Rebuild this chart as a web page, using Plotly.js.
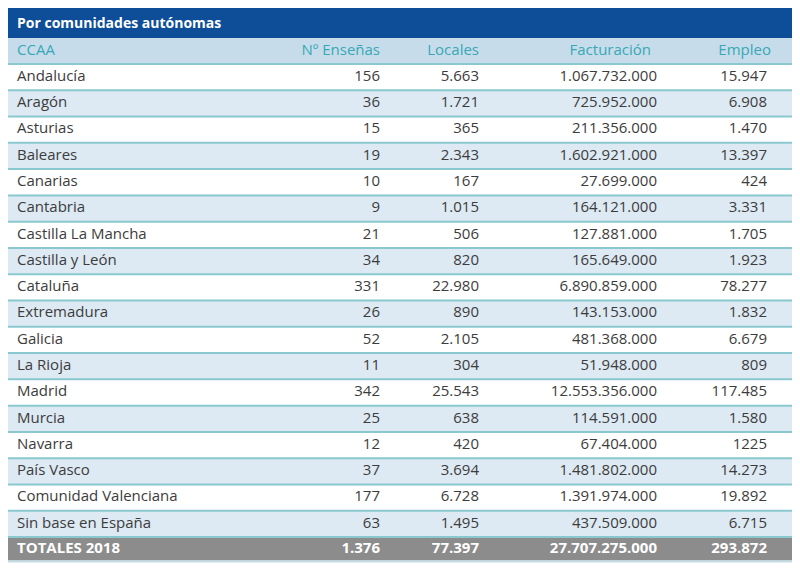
<!DOCTYPE html>
<html>
<head>
<meta charset="utf-8">
<script src="https://cdn.plot.ly/plotly-3.0.1.min.js"></script>
<style>html,body{margin:0;padding:0;background:#fff;}#chart{width:800px;height:569px;}</style>
</head>
<body>
<div id="chart"></div>
<script>
// ---- data ----
const tableTitle = "Por comunidades autónomas";
const headers = ["CCAA", "Nº Enseñas", "Locales", "Facturación", "Empleo"];
const ccaa = ["Andalucía","Aragón","Asturias","Baleares","Canarias","Cantabria","Castilla La Mancha","Castilla y León","Cataluña","Extremadura","Galicia","La Rioja","Madrid","Murcia","Navarra","País Vasco","Comunidad Valenciana","Sin base en España"];
const ensenas = [156,36,15,19,10,9,21,34,331,26,52,11,342,25,12,37,177,63];
const locales = [5663,1721,365,2343,167,1015,506,820,22980,890,2105,304,25543,638,420,3694,6728,1495];
const facturacion = [1067732000,725952000,211356000,1602921000,27699000,164121000,127881000,165649000,6890859000,143153000,481368000,51948000,12553356000,114591000,67404000,1481802000,1391974000,437509000];
const empleo = [15947,6908,1470,13397,424,3331,1705,1923,78277,1832,6679,809,117485,1580,1225,14273,19892,6715];
const totalLabel = "TOTALES 2018";
const totalEnsenas = 1376;
const totalLocales = 77397;
const totalFacturacion = 27707275000;
const totalEmpleo = 293872;
const unseparated = ["Navarra"]; // Empleo printed without thousands separator in the source

// ---- layout constants (pixels inside the plot area) ----
const W = 784, H = 561;
const TITLE_H = 30, HEAD_H = 26, ROW_H = 26.28, TOT_H = 23.5;
const colX = [9, 372, 471, 649, 759];        // anchor of each column's text
const headX = [9, 372, 471, 643, 763];       // anchor of each header text
const TITLE_BG = "#0e4e98", HEAD_BG = "#c7dcea", TEAL = "#38a8b6";
const WHITE = "#ffffff", LIGHT = "#dde9f3", TOTAL_BG = "#8c8c8c";
const TEXT = "#3c3c3c", SEP = "#8ac8d0", BOTTOM = "#c2dfe9";
const FONT = "Open Sans";

function fmt(v, sep) {
  const s = String(Math.round(v));
  return sep ? s.replace(/\B(?=(\d{3})+(?!\d))/g, ".") : s;
}

// row geometry
const rowTop = [], rowH = [];
let y = 0;
rowTop.push(y); rowH.push(TITLE_H); y += TITLE_H;
rowTop.push(y); rowH.push(HEAD_H); y += HEAD_H;
const dataStart = rowTop.length;
ccaa.forEach(() => { rowTop.push(y); rowH.push(ROW_H); y += ROW_H; });
rowTop.push(y); rowH.push(TOT_H); y += TOT_H;
const rowMid = rowTop.map((t, i) => t + rowH[i] / 2);
const fills = rowTop.map((_, i) => {
  if (i === 0) return TITLE_BG;
  if (i === 1) return HEAD_BG;
  if (i === rowTop.length - 1) return TOTAL_BG;
  return (i - dataStart) % 2 === 0 ? WHITE : LIGHT;
});

const traces = [];
// row backgrounds
traces.push({
  type: "bar", orientation: "h",
  x: rowTop.map(() => W), y: rowMid, width: rowH, base: 0,
  marker: {color: fills, line: {width: 0}},
  hoverinfo: "skip", showlegend: false
});

// separators
const sepX = [], sepY = [];
for (let i = dataStart; i < rowTop.length; i++) {
  sepX.push(0, W, null); sepY.push(rowTop[i], rowTop[i], null);
}
traces.push({type: "scatter", mode: "lines", x: sepX, y: sepY,
  line: {color: SEP, width: 2}, hoverinfo: "skip", showlegend: false});
traces.push({type: "scatter", mode: "lines", x: [0, W], y: [y + 1, y + 1],
  line: {color: BOTTOM, width: 2}, hoverinfo: "skip", showlegend: false});

// title
traces.push({type: "scatter", mode: "text", x: [colX[0]], y: [rowMid[0] + 1],
  text: ["<b>" + tableTitle + "</b>"], textposition: "middle right",
  textfont: {family: FONT, size: 14, color: "#ffffff"}, cliponaxis: false,
  hoverinfo: "skip", showlegend: false});

// headers
headers.forEach((h, c) => {
  traces.push({type: "scatter", mode: "text", x: [headX[c]], y: [rowMid[1]],
    text: [h], textposition: c === 0 ? "middle right" : "middle left",
    textfont: {family: FONT, size: 15, color: TEAL}, cliponaxis: false,
    hoverinfo: "skip", showlegend: false});
});

// body columns
const columns = [
  ccaa.map(s => s),
  ensenas.map(v => fmt(v, true)),
  locales.map(v => fmt(v, true)),
  facturacion.map(v => fmt(v, true)),
  empleo.map((v, i) => fmt(v, unseparated.indexOf(ccaa[i]) < 0))
];
const totals = [totalLabel, fmt(totalEnsenas, true), fmt(totalLocales, true), fmt(totalFacturacion, true), fmt(totalEmpleo, true)];
const bodyY = rowMid.slice(dataStart);
columns.forEach((col, c) => {
  const txt = col.concat(["<b>" + totals[c] + "</b>"]);
  const colors = col.map(() => TEXT).concat(["#ffffff"]);
  traces.push({type: "scatter", mode: "text", x: txt.map(() => colX[c]), y: bodyY,
    text: txt, textposition: c === 0 ? "middle right" : "middle left",
    textfont: {family: FONT, size: 15, color: colors}, cliponaxis: false,
    hoverinfo: "skip", showlegend: false});
});

const layout = {
  width: 800, height: 569,
  margin: {l: 8, r: 8, t: 8, b: 0, pad: 0},
  paper_bgcolor: "#ffffff", plot_bgcolor: "#ffffff",
  showlegend: false,
  xaxis: {range: [0, W], visible: false, fixedrange: true},
  yaxis: {range: [H, 0], visible: false, fixedrange: true},
  font: {family: FONT}
};

Plotly.newPlot("chart", traces, layout, {displayModeBar: false, staticPlot: true});
</script>
</body>
</html>
